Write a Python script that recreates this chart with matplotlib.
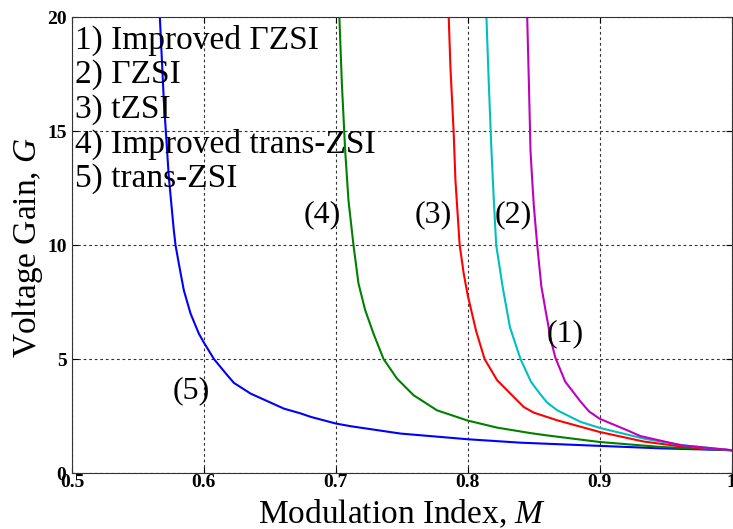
import matplotlib
matplotlib.use('Agg')
import matplotlib.pyplot as plt

# values (modulation index M, voltage gain G)
m_improved_gzsi = [0.8451, 0.8464, 0.8476, 0.8489, 0.8502, 0.8527, 0.8558, 0.8590, 0.8610, 0.8625,
                   0.8665, 0.8740, 0.8800, 0.8860, 0.8920, 0.900, 0.9211, 0.9309, 0.9613, 1.0]
g_improved_gzsi = [20, 17.08, 14.15, 12.84, 11.67, 10.0, 8.2, 7.14, 6.5, 5.96,
                   5.05, 4.0, 3.55, 3.1, 2.7, 2.38, 1.87, 1.62, 1.22, 1.0]

m_gzsi = [0.8142, 0.8160, 0.8180, 0.8198, 0.8216, 0.8265, 0.8320, 0.8400, 0.8480,
          0.8527, 0.8600, 0.8679, 0.8856, 0.900, 0.9334, 0.9638, 1.0]
g_gzsi = [20, 17.08, 14.15, 11.96, 10.0, 8.16, 6.4, 5.0, 4.0,
          3.63, 3.1, 2.75, 2.24, 1.98, 1.51, 1.21, 1.0]

m_tzsi = [0.7856, 0.7869, 0.7894, 0.7907, 0.7939, 0.7970, 0.800, 0.8021, 0.8065, 0.8128,
          0.8223, 0.8350, 0.8426, 0.8500, 0.8679, 0.900, 0.9334, 0.9638, 1.0]
g_tzsi = [20, 17.8, 14.88, 12.84, 10.0, 8.74, 7.8, 7.28, 6.2, 5.0,
          4.07, 3.33, 2.89, 2.65, 2.31, 1.80, 1.38, 1.15, 1.0]

m_improved_trans = [0.7027, 0.7046, 0.7071, 0.7096, 0.7134, 0.7172, 0.7223, 0.7286, 0.7362, 0.7464,
                    0.7590, 0.7767, 0.800, 0.8223, 0.8476, 0.860, 0.900, 0.9466, 1.0]
g_improved_trans = [20, 17.08, 14.15, 11.96, 10.0, 8.31, 7.14, 6.11, 5.0, 4.14,
                    3.41, 2.75, 2.30, 1.99, 1.75, 1.65, 1.36, 1.14, 1.0]

m_trans = [0.5666, 0.5696, 0.5734, 0.5772, 0.5785, 0.5810, 0.5848, 0.5899, 0.5962, 0.600,
           0.6076, 0.6177, 0.6228, 0.6355, 0.6608, 0.673, 0.6811, 0.700, 0.7115, 0.749,
           0.800, 0.840, 0.900, 0.947, 1.0]
g_trans = [20, 16.35, 12.98, 10.64, 9.99, 9.18, 8.01, 6.99, 6.11, 5.72,
           5.0, 4.29, 3.95, 3.48, 2.82, 2.62, 2.46, 2.17, 2.05, 1.73,
           1.48, 1.33, 1.19, 1.08, 1.0]

legend_lines = ['1) Improved \u0393ZSI', '2) \u0393ZSI', '3) tZSI',
                '4) Improved trans-ZSI', '5) trans-ZSI']
curve_tags = ['(1)', '(2)', '(3)', '(4)', '(5)']
tag_pos = [(0.874, 6.13), (0.8347, 11.35), (0.774, 11.35), (0.690, 11.35), (0.5905, 3.63)]

x_ticks = [0.5, 0.6, 0.7, 0.8, 0.9, 1.0]
x_ticklabels = ['0.5', '0.6', '0.7', '0.8', '0.9', '1']
y_ticks = [0, 5, 10, 15, 20]

plt.rcParams['font.family'] = ['Liberation Serif', 'DejaVu Serif']
plt.rcParams['mathtext.fontset'] = 'custom'
plt.rcParams['mathtext.rm'] = 'Liberation Serif'
plt.rcParams['mathtext.it'] = 'Liberation Serif:italic'

fig = plt.figure(figsize=(7.33, 5.29), dpi=100)
ax = fig.add_axes([72 / 733, 1 - 473 / 529, 659.5 / 733, 456 / 529])

lw = 1.5
ax.plot(m_trans, g_trans, color=(0, 0, 1), lw=lw)
ax.plot(m_improved_trans, g_improved_trans, color=(0, 0.5, 0), lw=lw)
ax.plot(m_tzsi, g_tzsi, color=(1, 0, 0), lw=lw)
ax.plot(m_gzsi, g_gzsi, color=(0, 0.75, 0.75), lw=lw)
ax.plot(m_improved_gzsi, g_improved_gzsi, color=(0.75, 0, 0.75), lw=lw)

ax.set_xlim(0.5, 1.0)
ax.set_ylim(0, 20)
ax.set_xticks(x_ticks)
ax.set_xticklabels(x_ticklabels)
ax.set_yticks(y_ticks)
ax.grid(True, color='#333333', linestyle=(0, (2.5, 2.5)), linewidth=0.8)
ax.tick_params(direction='in', length=4, width=0.8, top=True, right=True, labelsize=14)
ax.tick_params(axis='x', pad=1)
ax.tick_params(axis='y', pad=4)
for lbl in ax.get_xticklabels() + ax.get_yticklabels():
    lbl.set_fontweight('bold')
for s in ax.spines.values():
    s.set_color('#333333')
    s.set_linewidth(0.8)

ax.set_xlabel('Modulation Index, $M$', fontsize=24)
ax.xaxis.set_label_coords(0.5, -0.055)
ax.xaxis.label.set_va('top')
ax.set_ylabel('Voltage Gain, $G$', fontsize=24)
ax.yaxis.set_label_coords(-0.041, 0.495)

# legend-like text block in the upper left corner
for i, line in enumerate(legend_lines):
    ax.text(0.004, (472.7 - 48.3 - 34.6 * i) / 456, line, transform=ax.transAxes,
            fontsize=24, va='baseline', ha='left')

for tag, (tx, ty) in zip(curve_tags, tag_pos):
    ax.text(tx, ty, tag, fontsize=23, ha='center', va='center')

fig.savefig('out.png', dpi=100)
